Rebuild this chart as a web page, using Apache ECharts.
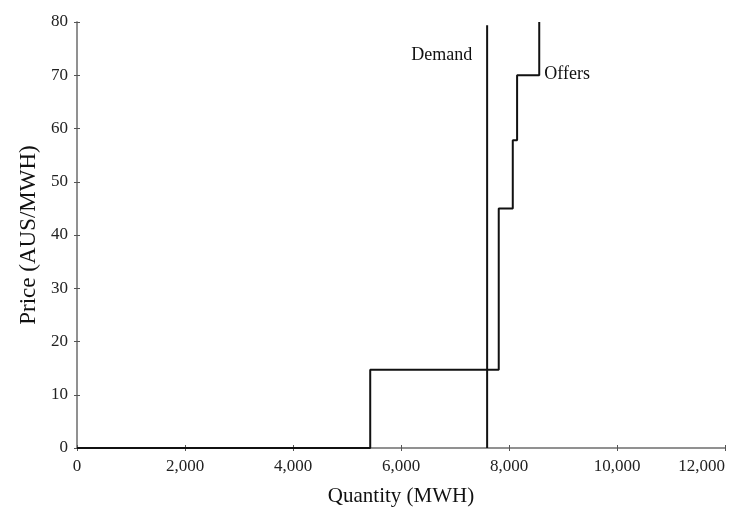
<!DOCTYPE html>
<html>
<head>
<meta charset="utf-8">
<script src="https://cdn.jsdelivr.net/npm/echarts@6/dist/echarts.min.js"></script>
<style>
  html, body { margin: 0; padding: 0; background: #fff; }
  #chart { width: 743px; height: 514px; }
</style>
</head>
<body>
<div id="chart"></div>
<script>
// offer stack (quantity where each price step starts, price of step)
const offerQty = [0, 5430, 7810, 8070, 8150, 8560]
const offerPrice = [0, 14.7, 45, 57.8, 70, 80]
// demand is a vertical line
const demandQty = [7595, 7595]
const demandPrice = [0, 79.4]
const xTicks = [0, 2000, 4000, 6000, 8000, 10000, 12000]
const yTicks = [0, 10, 20, 30, 40, 50, 60, 70, 80]

const serif = 'Liberation Serif'
const axisGray = '#8a8a8a'

function baseX(extra) {
  return Object.assign({
    type: 'value',
    min: xTicks[0],
    max: xTicks[xTicks.length - 1],
    interval: 2000,
    position: 'bottom',
    axisLine: { show: true, lineStyle: { color: axisGray, width: 1.5 } },
    splitLine: { show: false }
  }, extra)
}

function baseY(extra) {
  return Object.assign({
    type: 'value',
    min: yTicks[0],
    max: yTicks[yTicks.length - 1],
    interval: 10,
    position: 'left',
    axisLine: { show: true, lineStyle: { color: axisGray, width: 1.5 } },
    splitLine: { show: false }
  }, extra)
}

const chart = echarts.init(document.getElementById('chart'))
chart.setOption({
  animation: false,
  grid: { left: 77, right: 18, top: 22, bottom: 66, containLabel: false, outerBoundsMode: 'none' },
  xAxis: [
    baseX({
      name: 'Quantity (MWH)',
      nameLocation: 'middle',
      nameGap: 38,
      nameTextStyle: { fontFamily: serif, fontSize: 21, color: '#111' },
      axisTick: { show: true, length: 3, lineStyle: { color: '#555' } },
      axisLabel: {
        margin: 10,
        fontFamily: serif,
        fontSize: 17,
        color: '#222',
        alignMaxLabel: 'right',
        formatter: v => v.toLocaleString('en-US')
      }
    }),
    baseX({
      axisTick: { show: true, inside: true, length: 3, lineStyle: { color: '#555' } },
      axisLabel: { show: false }
    })
  ],
  yAxis: [
    baseY({
      name: 'Price (AUS/MWH)',
      nameLocation: 'middle',
      nameGap: 33,
      nameTextStyle: { fontFamily: serif, fontSize: 23, color: '#111' },
      axisTick: { show: true, length: 3, lineStyle: { color: '#555' } },
      axisLabel: { margin: 9, fontFamily: serif, fontSize: 17, color: '#222' }
    }),
    baseY({
      axisTick: { show: true, inside: true, length: 3, lineStyle: { color: '#555' } },
      axisLabel: { show: false }
    })
  ],
  series: [
    {
      name: 'Offers',
      type: 'line',
      step: 'end',
      symbol: 'none',
      lineStyle: { color: '#111', width: 2 },
      endLabel: {
        show: true,
        formatter: 'Offers',
        distance: 5,
        offset: [0, 52],
        fontFamily: serif,
        fontSize: 18,
        color: '#111'
      },
      data: offerQty.map((q, i) => [q, offerPrice[i]])
    },
    {
      name: 'Demand',
      type: 'line',
      symbol: 'none',
      lineStyle: { color: '#111', width: 2 },
      endLabel: {
        show: true,
        formatter: 'Demand',
        align: 'right',
        distance: 6,
        offset: [-21, 30],
        fontFamily: serif,
        fontSize: 18,
        color: '#111'
      },
      data: demandQty.map((q, i) => [q, demandPrice[i]])
    }
  ]
})
</script>
</body>
</html>
